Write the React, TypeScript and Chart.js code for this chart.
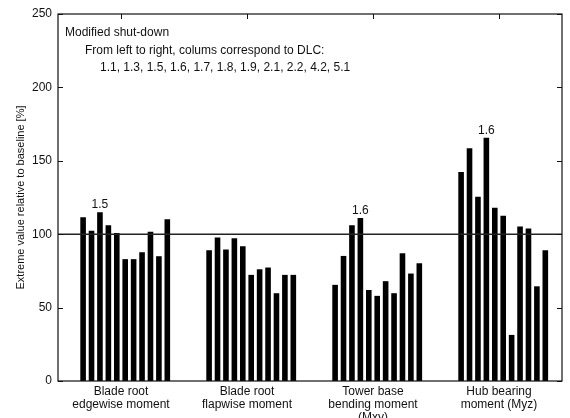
import React, { useEffect, useRef } from "react";
import { Chart, registerables } from "chart.js";

Chart.register(...registerables);

// DLC order inside every group (left to right)
const dlcs = ["1.1", "1.3", "1.5", "1.6", "1.7", "1.8", "1.9", "2.1", "2.2", "4.2", "5.1"];

// Category (group) labels
const groupLabels = [
  ["Blade root", "edgewise moment"],
  ["Blade root", "flapwise moment"],
  ["Tower base", "bending moment", "(Mxy)"],
  ["Hub bearing", "moment (Myz)"],
];

// Extreme value relative to baseline [%], one array per load component (DLC order above)
const bladeEdgewise = [111.6, 102.3, 115.0, 106.1, 100.9, 83.0, 83.0, 87.7, 101.6, 85.0, 110.2];
const bladeFlapwise = [89.1, 97.7, 89.5, 97.3, 91.8, 72.3, 76.1, 77.3, 59.8, 72.3, 72.3];
const towerBase = [65.5, 85.2, 106.1, 111.1, 62.0, 58.0, 68.0, 59.8, 87.0, 73.2, 80.2];
const hubBearing = [142.3, 158.6, 125.5, 165.7, 118.0, 112.5, 31.4, 105.2, 103.9, 64.5, 89.1];

const groups = [bladeEdgewise, bladeFlapwise, towerBase, hubBearing];

// DLC label written above the governing bar of each group (null = none)
const peakLabels = ["1.5", null, "1.6", "1.6"];

// Y axis ticks
const yMin = 0;
const yMax = 250;
const yStep = 50;
const baselineValue = 100;

const annotationLines = [
  "Modified shut-down",
  "From left to right, colums correspond to DLC:",
  dlcs.join(", "),
];

const FONT = "'Liberation Sans', Arial, Helvetica, sans-serif";
const INK = "#111";

const decorPlugin = {
  id: "decor",
  afterDatasetsDraw(chart: any) {
    const { ctx, chartArea } = chart;
    const { left, right, top, bottom } = chartArea;
    const y = chart.scales.y;
    const x = chart.scales.x;
    ctx.save();

    // baseline at 100 %
    const yb = y.getPixelForValue(baselineValue);
    ctx.strokeStyle = "#222";
    ctx.lineWidth = 1.5;
    ctx.beginPath();
    ctx.moveTo(left, yb);
    ctx.lineTo(right, yb);
    ctx.stroke();

    // frame
    ctx.strokeStyle = INK;
    ctx.lineWidth = 1.2;
    ctx.strokeRect(left, top, right - left, bottom - top);

    // inward ticks left/right
    ctx.lineWidth = 1;
    for (let v = yMin; v <= yMax; v += yStep) {
      const py = Math.round(y.getPixelForValue(v)) + 0.5;
      ctx.beginPath();
      ctx.moveTo(left, py);
      ctx.lineTo(left + 5, py);
      ctx.moveTo(right, py);
      ctx.lineTo(right - 5, py);
      ctx.stroke();
    }
    // inward ticks on top axis at category centres
    for (let i = 0; i < groupLabels.length; i++) {
      const px = Math.round(x.getPixelForValue(i)) + 0.5;
      ctx.beginPath();
      ctx.moveTo(px, top);
      ctx.lineTo(px, top + 5);
      ctx.stroke();
    }

    // peak DLC labels above bars
    ctx.fillStyle = INK;
    ctx.font = `12px ${FONT}`;
    ctx.textAlign = "center";
    ctx.textBaseline = "middle";
    peakLabels.forEach((lab, gi) => {
      if (!lab) return;
      const di = dlcs.indexOf(lab) + 1; // +1 for the leading spacer dataset
      const meta = chart.getDatasetMeta(di);
      const el = meta.data[gi];
      if (!el) return;
      ctx.fillText(lab, el.x, el.y - 7);
    });

    // annotation text
    ctx.textAlign = "left";
    const offs = [
      [7, 19],
      [27, 37],
      [42, 54],
    ];
    annotationLines.forEach((t, i) => {
      ctx.fillText(t, left + offs[i][0], top + offs[i][1]);
    });
    ctx.restore();
  },
};

export default function App() {
  const ref = useRef<HTMLCanvasElement | null>(null);

  useEffect(() => {
    if (!ref.current) return;
    const datasets: any[] = [
      {
        label: "spacer",
        data: groups.map(() => null),
        backgroundColor: "#000",
      },
      ...dlcs.map((d, di) => ({
        label: "DLC " + d,
        data: groups.map((g) => g[di]),
        backgroundColor: "#000",
        borderWidth: 0,
      })),
    ];
    const chart = new Chart(ref.current, {
      type: "bar",
      data: { labels: groupLabels as any, datasets },
      options: {
        animation: false,
        responsive: false,
        devicePixelRatio: 1,
        layout: { padding: { top: 14, right: 8, left: 0, bottom: 0 } },
        datasets: { bar: { categoryPercentage: 0.802, barPercentage: 0.666 } },
        plugins: {
          legend: { display: false },
          tooltip: { enabled: false },
        },
        scales: {
          x: {
            type: "category",
            grid: { display: false, drawTicks: false },
            border: { display: false },
            ticks: {
              color: INK,
              font: { family: FONT, size: 12, lineHeight: 1.1 },
              padding: 4,
              maxRotation: 0,
              autoSkip: false,
            },
            afterFit: (s: any) => {
              s.height = 37;
            },
          },
          y: {
            min: yMin,
            max: yMax,
            grid: { display: false, drawTicks: false },
            border: { display: false },
            ticks: {
              stepSize: yStep,
              color: INK,
              font: { family: FONT, size: 12 },
              padding: 6,
            },
            title: {
              display: true,
              text: "Extreme value relative to baseline [%]",
              color: INK,
              font: { family: FONT, size: 11 },
              padding: { top: 14, bottom: 0 },
            },
            afterFit: (s: any) => {
              s.width = 58;
            },
          },
        },
      },
      plugins: [decorPlugin],
    } as any);
    return () => chart.destroy();
  }, []);

  return (
    <div
      style={{
        position: "fixed",
        left: 0,
        top: 0,
        width: 570,
        height: 418,
        background: "#fff",
        overflow: "hidden",
      }}
    >
      <canvas ref={ref} width={570} height={418} style={{ display: "block" }} />
    </div>
  );
}
